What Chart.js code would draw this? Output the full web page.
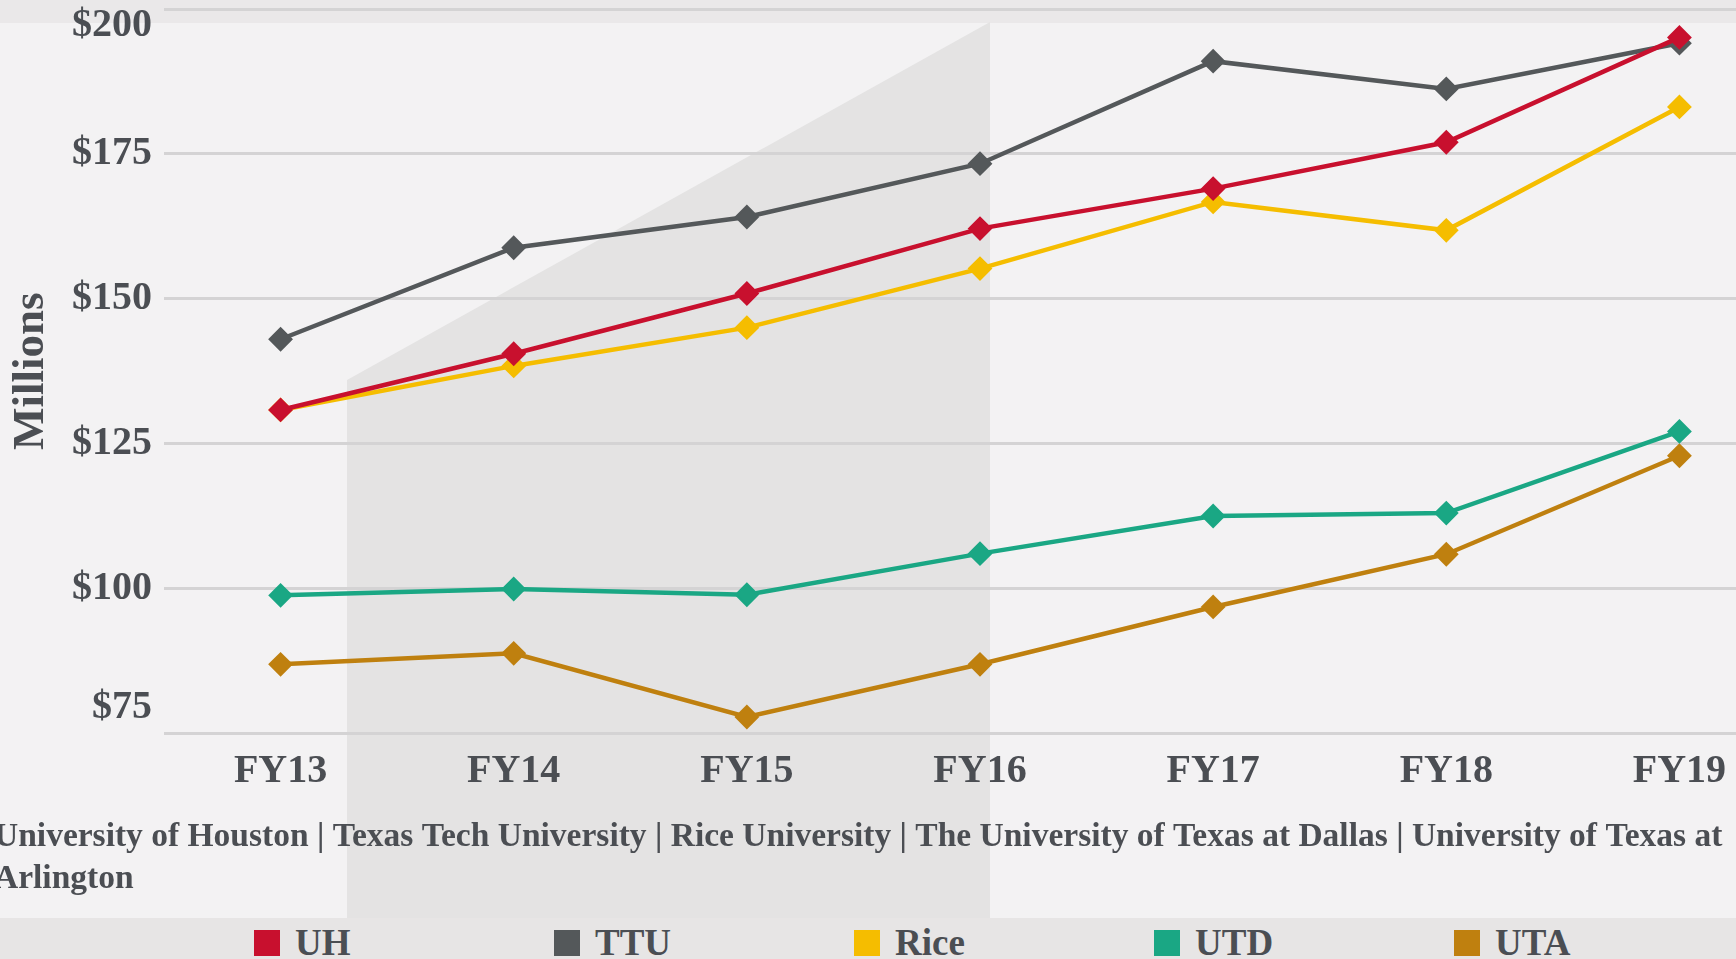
<!DOCTYPE html>
<html>
<head>
<meta charset="utf-8">
<title>Research expenditures FY13-FY19</title>
<script src="https://cdn.jsdelivr.net/npm/chart.js@4.4.0/dist/chart.umd.min.js"></script>
<style>
    html, body { margin: 0; padding: 0; width: 1736px; height: 959px; overflow: hidden; background: #f3f2f3; }
    #topBand { position: absolute; left: 0; top: 0; width: 1736px; height: 23px; background: #eae8e9; }
    #shade { position: absolute; left: 0; top: 0; width: 1736px; height: 959px; background: #e4e3e3;
             clip-path: polygon(347px 380px, 990px 22px, 990px 918px, 347px 918px); }
    #legendBand { position: absolute; left: 0; top: 918px; width: 1736px; height: 41px; background: #e7e5e5; }
    #wrap { position: absolute; left: -6px; top: 0; width: 1802px; height: 900px; }
    .legendItem { position: absolute; top: 924px; font: bold 37px 'Liberation Serif', serif; line-height: 37px; color: #4b4e53; white-space: nowrap; }
    .legendItem span { position: absolute; left: -41px; top: 6px; width: 26px; height: 26px; }
</style>
</head>
<body>
<div id="topBand"></div>
<div id="shade"></div>
<div id="legendBand"></div>
<div id="wrap"><canvas id="myChart"></canvas></div>
<div id="legend"></div>
<script>
//! DATA (millions of dollars)
const years = ['FY13', 'FY14', 'FY15', 'FY16', 'FY17', 'FY18', 'FY19'];
const uh = [130.8, 140.5, 150.9, 162.1, 169.0, 177.0, 195.1];
const ttu = [143.0, 158.8, 164.1, 173.3, 191.0, 186.2, 194.1];
const rice = [130.8, 138.4, 145.0, 155.2, 166.7, 161.8, 183.1];
const utd = [98.8, 99.9, 98.9, 106.0, 112.5, 113.0, 127.1];
const uta = [86.9, 88.8, 77.8, 86.9, 96.8, 105.9, 122.9];
const schools = ['UH', 'TTU', 'Rice', 'UTD', 'UTA'];
const yMin = 75;
const yMax = 200;
const yStep = 25;
const sourceNote = [
    'University of Houston | Texas Tech University | Rice University | The University of Texas at Dallas | University of Texas at',
    'Arlington'
];

//* colors, same order as schools
const palette = ['#c8102e', '#54585a', '#f5bd00', '#1aa784', '#bf800f'];
const textColor = '#4b4e53';
const serif = "'Liberation Serif', serif";

const seriesValues = [uh, ttu, rice, utd, uta];

const data = {
    labels: years,
    datasets: schools.map((name, i) => ({
        label: name,
        data: seriesValues[i],
        borderColor: palette[i],
        backgroundColor: palette[i],
        borderWidth: 4.5,
        pointStyle: 'rectRot',
        pointRadius: 11,
        pointBorderWidth: 2,
        pointBorderColor: palette[i],
        pointBackgroundColor: palette[i],
        tension: 0
    }))
};

//* edge tick labels are pushed inside the plot in the original:
//* a 2 line label with an empty line moves the text by half a line height
function yTickFont(ctx) {
    let lh = 1;
    if (ctx.tick && ctx.tick.value === yMax) lh = 0.85;
    if (ctx.tick && ctx.tick.value === yMin) lh = 1.3;
    return { family: serif, size: 40, weight: 'bold', lineHeight: lh };
}

const config = {
    type: 'line',
    data,
    options: {
        responsive: true,
        maintainAspectRatio: false,
        animation: false,
        events: [],
        layout: { autoPadding: false, padding: { top: 9, left: 0, right: 0, bottom: 0 } },
        plugins: {
            legend: { display: false },
            tooltip: { enabled: false },
            title: {
                display: true,
                position: 'bottom',
                align: 'start',
                text: sourceNote,
                color: textColor,
                font: { family: serif, size: 33.5, weight: 'bold', lineHeight: 1.25 },
                padding: { top: 24, bottom: 0 }
            }
        },
        scales: {
            x: {
                offset: true,
                grid: { display: false, drawTicks: false },
                border: { display: false },
                ticks: {
                    color: textColor,
                    padding: 14,
                    font: { family: serif, size: 40, weight: 'bold', lineHeight: 1.2 }
                },
                afterFit: scale => {
                    scale.height = 59;
                }
            },
            y: {
                min: yMin,
                max: yMax,
                grid: { color: '#d4d3d4', lineWidth: 3, drawTicks: false },
                border: { display: false },
                ticks: {
                    stepSize: yStep,
                    padding: 12,
                    color: textColor,
                    font: yTickFont,
                    callback: v => v === yMax ? ['', '$' + v] : v === yMin ? ['$' + v, ''] : '$' + v
                },
                title: {
                    display: true,
                    text: 'Millions',
                    color: textColor,
                    font: { family: serif, size: 45, weight: 'bold', lineHeight: 1.2 },
                    padding: { top: 10, bottom: 0 }
                },
                afterFit: scale => {
                    scale.width = 170;
                    scale.paddingTop = 0;
                    scale.paddingBottom = 0;
                }
            }
        }
    }
};

const myChart = new Chart(document.getElementById('myChart'), config);

//! LEGEND (html, spaced like the original)
const legendBox = document.getElementById('legend');
schools.forEach((name, i) => {
    const item = document.createElement('div');
    item.className = 'legendItem';
    item.style.left = (295 + i * 300) + 'px';
    item.textContent = name;
    const swatch = document.createElement('span');
    swatch.style.background = palette[i];
    item.appendChild(swatch);
    legendBox.appendChild(item);
});
</script>
</body>
</html>
